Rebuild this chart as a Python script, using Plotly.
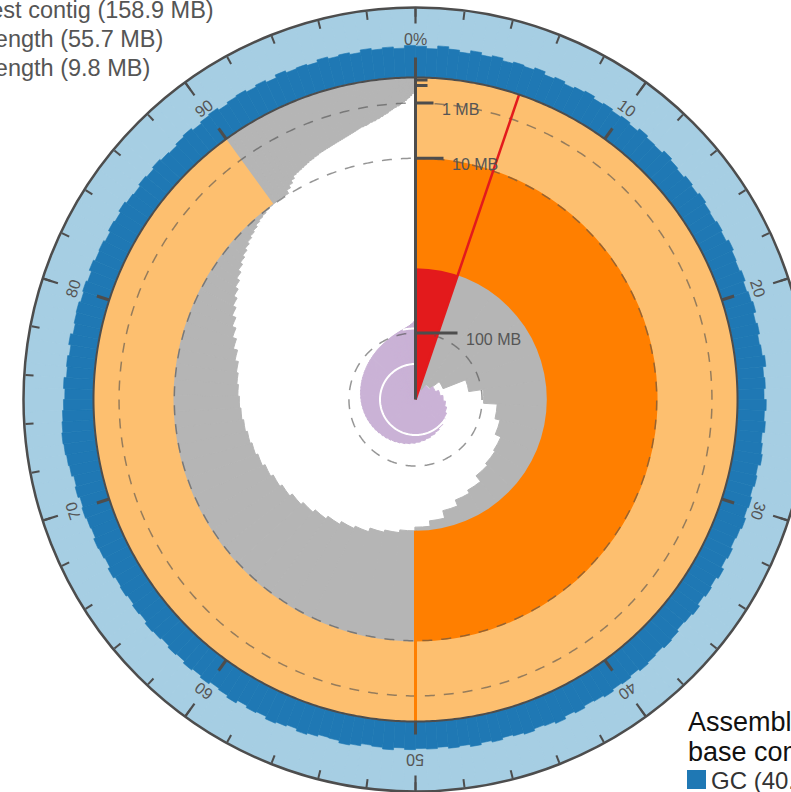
import math
import plotly.graph_objects as go

# ---------------------------------------------------------------- data
# contig lengths (Mb), longest first
contig_mb = [
    158.9, 149.0, 141.5, 131.0, 110.2, 98.7, 88.4, 84.6, 80.2, 79.0,
    77.3, 72.4, 70.1, 66.0, 61.2, 57.9, 55.7, 54.1, 52.8, 50.6,
    49.2, 47.5, 45.8, 44.1, 42.6, 41.0, 39.7, 38.3, 36.9, 35.8,
    34.9, 34.0, 33.2, 32.6, 31.9, 31.2, 30.4, 28.9, 27.1, 25.4,
    23.8, 22.2, 20.9, 19.6, 18.4, 17.2, 16.1, 15.2, 14.4, 13.6,
    12.9, 12.3, 11.8, 11.2, 10.8, 10.5, 10.2, 10.0, 9.9, 9.8,
    9.8, 9.8, 8.9, 8.2, 7.5, 6.9, 6.7, 6.5, 6.3, 6.1,
    5.9, 5.7, 5.6, 5.4, 5.3, 5.1, 5.0, 4.9, 4.8, 4.7,
    4.6, 4.5, 4.4, 4.3, 4.2, 4.1, 4.0, 3.9, 3.8, 3.7,
    3.6, 3.5, 3.4, 3.3, 3.2, 3.1, 3.0, 3.0, 2.9, 2.9,
    2.8, 2.7, 2.6, 2.6, 2.5, 2.5, 2.4, 2.3, 2.3, 2.2,
    2.1, 2.1, 2.0, 1.9, 1.9, 1.8, 1.8, 1.7, 1.6, 1.6,
    1.5, 1.5, 1.4, 1.4, 1.3, 1.3, 1.3, 1.2, 1.2, 1.2,
    1.2, 1.1, 1.1, 1.0, 1.0, 1.0, 0.9, 0.9, 0.9, 0.9,
    0.8, 0.8, 0.8, 0.8, 0.7, 0.7, 0.7, 0.7, 0.6, 0.6,
    0.6, 0.6, 0.6, 0.5, 0.5, 0.5, 0.5, 0.5, 0.5, 0.4,
    0.4, 0.4, 0.4, 0.4, 0.4, 0.3, 0.3, 0.3, 0.3, 0.3,
    0.3, 0.3, 0.2, 0.2, 0.2, 0.2, 0.2, 0.2, 0.1, 0.1,
    0.1, 0.1,
]

N50_MB = 55.7
N90_MB = 9.8
GC_PCT = 40.6

# GC content (%) in 0.5 % bins around the assembly
gc_pct_bins = [
    44.8, 41.6, 46.1, 42.9, 40.2, 44.5, 41.0, 43.3, 39.8, 42.1,
    40.5, 43.6, 39.2, 41.7, 38.6, 40.9, 42.8, 39.4, 41.2, 38.8,
    40.4, 37.9, 41.8, 39.1, 38.3, 42.2, 39.6, 37.7, 40.7, 38.5,
    41.4, 39.0, 37.8, 40.1, 38.2, 42.0, 39.3, 38.0, 40.6, 37.6,
    39.7, 41.9, 38.1, 40.3, 37.5, 39.2, 42.7, 38.4, 40.0, 37.9,
    41.1, 38.7, 40.8, 37.4, 39.5, 41.6, 38.0, 39.9, 37.7, 40.2,
    38.6, 41.3, 39.1, 37.6, 40.5, 38.3, 42.4, 39.0, 40.9, 38.2,
    41.7, 39.4, 37.9, 40.7, 42.1, 39.6, 41.2, 43.0, 40.0, 42.3,
    40.8, 43.5, 41.0, 39.7, 42.6, 40.3, 44.2, 41.4, 39.9, 42.8,
    40.6, 38.8, 41.5, 39.3, 42.0, 38.9, 40.4, 37.8, 39.6, 38.5,
    40.2, 38.0, 41.4, 39.1, 37.7, 40.8, 42.5, 39.2, 38.4, 41.0,
    43.1, 39.8, 41.9, 44.0, 40.5, 42.2, 39.4, 43.6, 40.9, 39.0,
    42.1, 39.5, 41.7, 38.6, 40.3, 37.8, 39.9, 41.5, 38.4, 40.0,
    37.6, 39.8, 38.3, 41.2, 37.9, 39.6, 40.9, 38.1, 39.3, 41.0,
    39.2, 42.0, 40.1, 43.2, 44.7, 46.3, 47.5, 46.0, 44.6, 42.9,
    41.0, 43.1, 39.5, 40.8, 38.4, 41.6, 37.9, 39.7, 40.5, 38.2,
    40.0, 37.7, 41.3, 38.8, 39.9, 37.5, 40.6, 38.9, 42.0, 39.2,
    37.8, 40.4, 38.5, 41.1, 39.0, 37.6, 40.3, 42.4, 39.1, 41.5,
    43.2, 40.0, 42.6, 44.1, 41.3, 43.8, 40.7, 45.0, 42.1, 43.4,
    41.6, 45.2, 42.5, 44.3, 41.8, 45.5, 43.0, 44.7, 42.2, 45.8,
]

length_ticks_mb = [100, 10, 1]
length_tick_labels = ["100 MB", "10 MB", "1 MB"]
minor_length_ticks_mb = [0.1, 0.01]
pct_tick_labels = ["0%", "10", "20", "30", "40", "50", "60", "70", "80", "90"]

# ---------------------------------------------------------------- geometry / style
W, H = 830, 792            # page is wider than the window; the ring runs off the right edge
CX, CY = 415.5, 399.5      # plot centre (px from left / top)
PX = 322.0                 # pixels per unit radius
R_MAIN = 1.0
RING = 70 / PX
R_OUT = R_MAIN + RING
K_COUNT = 35.5 / PX        # radius per decade of contig count

FONT = "Liberation Sans, Arial, sans-serif"
DARK = "#4d4d4d"
TXT = "#555555"
GREY = "#b5b5b5"
C_GC, C_AT = "#1f78b4", "#a6cee3"
C_N50, C_N90, C_LONG = "#ff7f00", "#fdbf6f", "#e31a1c"
C_COUNT = "#cab2d6"

total = sum(contig_mb)
longest = contig_mb[0]


def r_len(mb):
    return R_MAIN * (1 - math.sqrt(mb / longest))


def to_paper(r, th_deg):
    t = math.radians(th_deg)
    x = CX + r * PX * math.sin(t)
    y = CY - r * PX * math.cos(t)
    return x / W, 1 - y / H


starts = []
acc = 0.0
for L in contig_mb:
    starts.append(acc)
    acc += L
theta_c = [(s + L / 2) / total * 360 for s, L in zip(starts, contig_mb)]
width_c = [L / total * 360 for L in contig_mb]
longest_deg = longest / total * 360

fig = go.Figure()

# base composition ring
nb = len(gc_pct_bins)
bw = 360 / nb
th_b = [(i + 0.5) * bw for i in range(nb)]
fig.add_trace(go.Barpolar(theta=th_b, width=[bw] * nb, base=[R_MAIN] * nb, r=[RING] * nb,
                          marker=dict(color=C_AT, line=dict(color=C_AT, width=1))))
fig.add_trace(go.Barpolar(theta=th_b, width=[bw] * nb, base=[R_MAIN] * nb,
                          r=[g / 100 * RING for g in gc_pct_bins],
                          marker=dict(color=C_GC, line=dict(color=C_GC, width=0.6))))

# contig length distribution
base_c = [r_len(L) for L in contig_mb]
fig.add_trace(go.Barpolar(theta=theta_c, width=width_c, base=base_c,
                          r=[R_MAIN - b for b in base_c],
                          marker=dict(color=GREY, line=dict(color=GREY, width=1))))

# longest contig, N50, N90
fig.add_trace(go.Barpolar(theta=[longest_deg / 2], width=[longest_deg], base=[0], r=[R_MAIN],
                          marker=dict(color=C_LONG, line=dict(width=0))))
fig.add_trace(go.Barpolar(theta=[90], width=[180], base=[r_len(N50_MB)],
                          r=[R_MAIN - r_len(N50_MB)], marker=dict(color=C_N50, line=dict(width=0))))
fig.add_trace(go.Barpolar(theta=[162], width=[324], base=[r_len(N90_MB)],
                          r=[R_MAIN - r_len(N90_MB)], marker=dict(color=C_N90, line=dict(width=0))))

# dashed length gridlines
circ = [i * 0.5 for i in range(721)]
for L in length_ticks_mb:
    fig.add_trace(go.Scatterpolar(theta=circ, r=[r_len(L)] * len(circ), mode="lines",
                                  line=dict(color="rgba(80,80,80,0.6)", width=1.5, dash="10px,9px")))

# cumulative contig count spiral (log scale)
fig.add_trace(go.Barpolar(theta=theta_c, width=width_c, base=[0] * len(contig_mb),
                          r=[K_COUNT * math.log10(k + 1) for k in range(len(contig_mb))],
                          marker=dict(color=C_COUNT, line=dict(color=C_COUNT, width=1))))
for p in (10, 100):
    if len(contig_mb) >= p:
        th0 = starts[p - 1] / total * 360
        ths = [th0 + (360 - th0) * i / 200 for i in range(201)]
        fig.add_trace(go.Scatterpolar(theta=ths, r=[K_COUNT * math.log10(p)] * len(ths), mode="lines",
                                      line=dict(color="white", width=2)))

# longest contig and N50 markers
fig.add_trace(go.Scatterpolar(theta=[longest_deg, longest_deg], r=[0, R_MAIN], mode="lines",
                              line=dict(color=C_LONG, width=2.5)))
fig.add_trace(go.Scatterpolar(theta=[180, 180], r=[r_len(N50_MB), R_MAIN], mode="lines",
                              line=dict(color=C_N50, width=3)))

# main circle with ticks every 10 %
fig.add_trace(go.Scatterpolar(theta=circ, r=[R_MAIN] * len(circ), mode="lines",
                              line=dict(color=DARK, width=2)))
tt, tr = [], []
for i in range(1, 10):
    tt += [i * 36, i * 36, None]
    tr += [R_MAIN, R_MAIN + 13 / PX, None]
fig.add_trace(go.Scatterpolar(theta=tt, r=tr, mode="lines", line=dict(color=DARK, width=3)))

# long outer ticks every 10 %
tt, tr = [], []
for i in range(10):
    tt += [i * 36, i * 36, None]
    tr += [R_OUT, R_OUT - 16 / PX, None]
fig.add_trace(go.Scatterpolar(theta=tt, r=tr, mode="lines", line=dict(color=DARK, width=2.2)))

# length axis
fig.add_trace(go.Scatterpolar(theta=[0, 0], r=[0, R_MAIN + 20 / PX], mode="lines",
                              line=dict(color=DARK, width=3)))
tick_len_px = [42, 28, 18]
tt, tr = [], []
for L, lp in zip(length_ticks_mb, tick_len_px):
    r0 = r_len(L)
    dl = lp / PX
    tt += [0, math.degrees(math.atan2(dl, r0)), None]
    tr += [r0, math.hypot(r0, dl), None]
for L in minor_length_ticks_mb:
    r0 = r_len(L)
    dl = 12 / PX
    tt += [0, math.degrees(math.atan2(dl, r0)), None]
    tr += [r0, math.hypot(r0, dl), None]
fig.add_trace(go.Scatterpolar(theta=tt, r=tr, mode="lines", line=dict(color=DARK, width=3)))

annotations = []
for L, lp, lab in zip(length_ticks_mb, tick_len_px, length_tick_labels):
    x, y = to_paper(r_len(L), 0)
    annotations.append(dict(x=x + (lp + 6) / W, y=y + 4 / H, xref="paper", yref="paper",
                            text=lab, showarrow=False, xanchor="left", yanchor="top",
                            font=dict(family=FONT, size=16, color=TXT)))

for i, lab in enumerate(pct_tick_labels):
    ang = i * 36
    x, y = to_paper(360 / PX, ang)
    ta = ang if ang <= 180 else ang - 360
    annotations.append(dict(x=x, y=y, xref="paper", yref="paper", text=lab, showarrow=False,
                            xanchor="center", yanchor="middle", textangle=ta,
                            font=dict(family=FONT, size=16, color=TXT)))

# legend, top left
legend_lines = [
    (f"Longest contig ({longest:.1f} MB)", -64, 10),
    (f"N50 length ({N50_MB:.1f} MB)", -62, 39),
    (f"N90 length ({N90_MB:.1f} MB)", -62, 68),
]
for text, xp, yp in legend_lines:
    annotations.append(dict(x=xp / W, y=1 - yp / H, xref="paper", yref="paper", text=text,
                            showarrow=False, xanchor="left", yanchor="middle",
                            font=dict(family=FONT, size=23.5, color=TXT)))

# legend, bottom right
annotations.append(dict(x=686 / W, y=1 - 722 / H, xref="paper", yref="paper", text="Assembly",
                        showarrow=False, xanchor="left", yanchor="middle",
                        font=dict(family=FONT, size=27, color="#111111")))
annotations.append(dict(x=686 / W, y=1 - 752 / H, xref="paper", yref="paper",
                        text="base composition", showarrow=False, xanchor="left", yanchor="middle",
                        font=dict(family=FONT, size=27, color="#111111")))
annotations.append(dict(x=709 / W, y=1 - 780 / H, xref="paper", yref="paper",
                        text=f"GC ({GC_PCT:.1f}%)", showarrow=False, xanchor="left", yanchor="middle",
                        font=dict(family=FONT, size=24, color="#333333")))
shapes = [dict(type="rect", xref="paper", yref="paper", x0=687 / W, x1=706 / W,
               y0=1 - 789 / H, y1=1 - 770 / H, fillcolor=C_GC, line=dict(width=0))]

R_OUT_PX = R_OUT * PX
fig.update_layout(
    width=W, height=H, margin=dict(l=0, r=0, t=0, b=0, pad=0),
    paper_bgcolor="white", plot_bgcolor="white", showlegend=False,
    annotations=annotations, shapes=shapes,
    polar=dict(
        domain=dict(x=[(CX - R_OUT_PX) / W, (CX + R_OUT_PX) / W],
                    y=[1 - (CY + R_OUT_PX) / H, 1 - (CY - R_OUT_PX) / H]),
        bgcolor="white", barmode="overlay",
        radialaxis=dict(range=[0, R_OUT], visible=False),
        angularaxis=dict(rotation=90, direction="clockwise", showgrid=False,
                         showticklabels=False, showline=True, linecolor=DARK, linewidth=2.5,
                         ticks="inside", ticklen=8, tickwidth=1.8, tickcolor=DARK,
                         tick0=0, dtick=7.2),
    ),
)

fig.write_html(
    "out.html",
    config={"displayModeBar": False},
    post_script="document.documentElement.style.overflow='hidden';"
                "document.body.style.overflow='hidden';document.body.style.margin='0';",
)
